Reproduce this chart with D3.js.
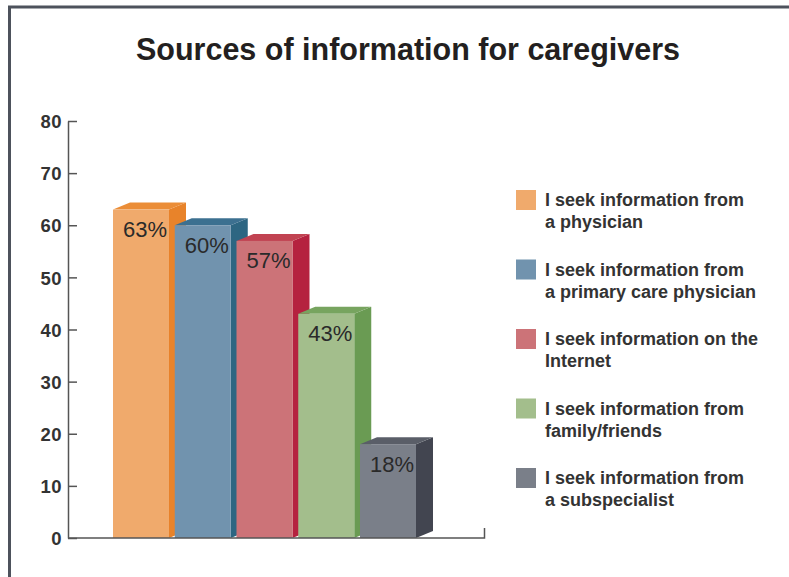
<!DOCTYPE html>
<html>
<head>
<meta charset="utf-8">
<script src="https://cdn.jsdelivr.net/npm/d3@7"></script>
<style>
  html, body { margin: 0; padding: 0; background: #fff; }
  svg { display: block; }
</style>
</head>
<body>
<div id="chart"></div>
<script>
const title = "Sources of information for caregivers";
const categories = ["physician", "primary care physician", "Internet", "family/friends", "subspecialist"];
const values = [63, 60, 57, 43, 18];
const valueLabels = ["63%", "60%", "57%", "43%", "18%"];
const legendLines = [
  ["I seek information from", "a physician"],
  ["I seek information from", "a primary care physician"],
  ["I seek information on the", "Internet"],
  ["I seek information from", "family/friends"],
  ["I seek information from", "a subspecialist"]
];
const yTicks = [0, 10, 20, 30, 40, 50, 60, 70, 80];
const frontColors = ["#F0AA6C", "#7193AE", "#CC7378", "#A3BE8C", "#7A7F89"];
const sideColors  = ["#E8832A", "#2D6682", "#B5223F", "#6A9B53", "#424550"];
const topColors   = ["#EB8D37", "#3C7090", "#C14352", "#77A45F", "#5A5E68"];

const W = 789, H = 577;
const svg = d3.select("#chart").append("svg").attr("width", W).attr("height", H);
const font = "'Liberation Sans', Arial, Helvetica, sans-serif";

// frame
svg.append("path")
  .attr("d", `M9.5,${H} V7 H${W}`)
  .attr("fill", "none").attr("stroke", "#4d525c").attr("stroke-width", 3);

// title
svg.append("text")
  .attr("x", 408).attr("y", 60)
  .attr("text-anchor", "middle")
  .attr("font-family", font).attr("font-weight", "bold").attr("font-size", 30.5)
  .attr("fill", "#231f20")
  .text(title);

const y = d3.scaleLinear().domain([0, 80]).range([538, 121]);
const x = d3.scaleBand().domain(categories).range([113, 416]).paddingInner(0.093).paddingOuter(0);
const dx = 17, dy = -7;

// y axis
const yAxis = d3.axisLeft(y).tickValues(yTicks).tickSize(-9).tickSizeOuter(0).tickPadding(6);
const gy = svg.append("g").attr("transform", "translate(68,0)").call(yAxis);
gy.select(".domain").attr("stroke", "#555").attr("stroke-width", 1.5);
gy.selectAll(".tick line").attr("stroke", "#555").attr("stroke-width", 1.5);
gy.selectAll(".tick text")
  .attr("font-family", font).attr("font-weight", "bold").attr("font-size", 18.5)
  .attr("letter-spacing", 0.5)
  .attr("fill", "#333").attr("dy", "0.36em");

// bars
const bars = svg.append("g");
categories.forEach((c, i) => {
  const x0 = x(c), w = x.bandwidth(), yt = y(values[i]), yb = y(0);
  const g = bars.append("g");
  g.append("path")
    .attr("d", `M${x0 + w},${yb} L${x0 + w},${yt} L${x0 + w + dx},${yt + dy} L${x0 + w + dx},${yb + dy} Z`)
    .attr("fill", sideColors[i]);
  g.append("path")
    .attr("d", `M${x0},${yt} L${x0 + dx},${yt + dy} L${x0 + w + dx},${yt + dy} L${x0 + w},${yt} Z`)
    .attr("fill", topColors[i]);
  g.append("rect")
    .attr("x", x0).attr("y", yt).attr("width", w).attr("height", yb - yt)
    .attr("fill", frontColors[i]);
  g.append("text")
    .attr("x", x0 + w / 2 + 4).attr("y", yt + 27.5)
    .attr("text-anchor", "middle")
    .attr("font-family", font).attr("font-size", 22)
    .attr("fill", "#2a2a2a")
    .text(valueLabels[i]);
});

// x axis baseline with end tick
svg.append("path")
  .attr("d", `M68,${y(0)} H484.5 V${y(0) - 10}`)
  .attr("fill", "none").attr("stroke", "#555").attr("stroke-width", 1.5);

// legend
const lg = svg.append("g");
legendLines.forEach((lines, i) => {
  const top = 190 + i * 69.5;
  lg.append("rect").attr("x", 516).attr("y", top).attr("width", 20).attr("height", 20)
    .attr("fill", frontColors[i]);
  lines.forEach((t, j) => {
    lg.append("text")
      .attr("x", 545).attr("y", top + 16 + j * 22)
      .attr("font-family", font).attr("font-weight", "bold").attr("font-size", 18)
      .attr("fill", "#333")
      .text(t);
  });
});
</script>
</body>
</html>
